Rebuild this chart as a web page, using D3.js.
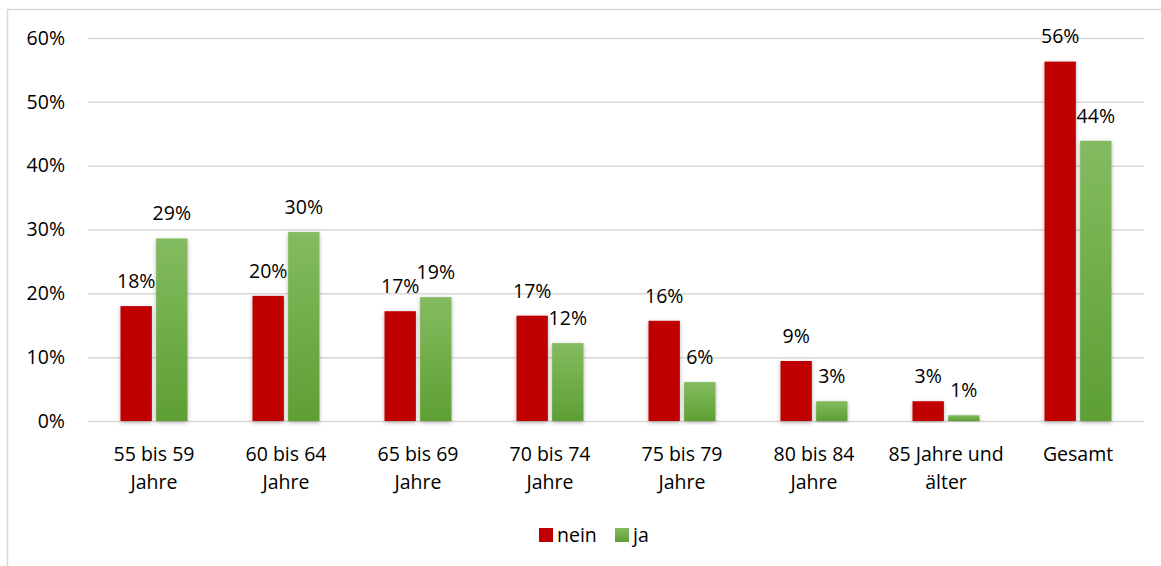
<!DOCTYPE html>
<html>
<head>
<meta charset="utf-8">
<script src="https://cdn.jsdelivr.net/npm/d3@7"></script>
<style>
  body { margin: 0; background: #fff; }
  text { font-family: "Open Sans", "Noto Sans", sans-serif; fill: #000; }
</style>
</head>
<body>
<div id="chart"></div>
<script>
var categories = [['55 bis 59', 'Jahre'], ['60 bis 64', 'Jahre'], ['65 bis 69', 'Jahre'], ['70 bis 74', 'Jahre'],
  ['75 bis 79', 'Jahre'], ['80 bis 84', 'Jahre'], ['85 Jahre und', 'älter'], ['Gesamt']]
var nein = [18.0, 19.6, 17.2, 16.5, 15.7, 9.4, 3.1, 56.3]
var ja = [28.6, 29.6, 19.4, 12.2, 6.1, 3.1, 0.9, 43.9]
var yTicks = [0, 10, 20, 30, 40, 50, 60]
var seriesNames = ['nein', 'ja']

var width = 1161, height = 566
var fs = '19.5px'
var svg = d3.select('#chart').append('svg')
  .attr('width', width)
  .attr('height', height)

var defs = svg.append('defs')
var grad = defs.append('linearGradient')
  .attr('id', 'gGreen').attr('x1', 0).attr('y1', 0).attr('x2', 0).attr('y2', 1)
grad.append('stop').attr('offset', '0%').attr('stop-color', '#83bc60')
grad.append('stop').attr('offset', '100%').attr('stop-color', '#5e9f33')
var shadow = defs.append('filter').attr('id', 'shadow')
  .attr('x', '-30%').attr('y', '-10%').attr('width', '160%').attr('height', '120%')
shadow.append('feDropShadow').attr('dx', 0).attr('dy', 1.5).attr('stdDeviation', 2)
  .attr('flood-color', '#000').attr('flood-opacity', 0.3)

// outer frame
svg.append('rect')
  .attr('x', 7.5).attr('y', 9.5)
  .attr('width', 1170).attr('height', 600)
  .attr('fill', 'none').attr('stroke', '#d9d9d9').attr('stroke-width', 1.5)

var plot = {left: 88, right: 1144, top: 38, bottom: 421}

var y = d3.scaleLinear().domain([0, 60]).range([plot.bottom, plot.top])
var x0 = d3.scaleBand().domain(d3.range(categories.length)).range([plot.left, plot.right])
var x1 = d3.scaleBand().domain(seriesNames).range([0, 67]).paddingInner(0.12)

// y axis with gridlines
var axisY = d3.axisLeft(y).tickValues(yTicks).tickFormat(function(d) { return d + '%' }).tickSize(0)
var axisYG = svg.append('g')
  .attr('transform', 'translate(' + plot.left + ',0)')
  .call(axisY)
axisYG.select('.domain').remove()
axisYG.selectAll('.tick text')
  .attr('x', -23)
  .style('font-size', fs)
axisYG.selectAll('.tick line')
  .attr('x2', plot.right - plot.left)
  .attr('stroke', '#d9d9d9')
  .attr('stroke-width', 1.5)

// bars
var groups = svg.selectAll('.grp')
  .data(categories)
  .enter().append('g')
  .attr('transform', function(d, i) { return 'translate(' + (x0(i) + x0.bandwidth() / 2 - 33.5) + ',0)' })

var colors = {nein: '#c00000', ja: 'url(#gGreen)'}
var vals = {nein: nein, ja: ja}

seriesNames.forEach(function(s) {
  groups.append('rect')
    .attr('x', x1(s))
    .attr('y', function(d, i) { return y(vals[s][i]) })
    .attr('width', x1.bandwidth())
    .attr('height', function(d, i) { return y(0) - y(vals[s][i]) })
    .attr('fill', colors[s])
    .attr('filter', 'url(#shadow)')
  groups.append('text')
    .attr('x', x1(s) + x1.bandwidth() / 2)
    .attr('y', function(d, i) { return y(vals[s][i]) - 25 })
    .attr('dy', '0.35em')
    .attr('text-anchor', 'middle')
    .style('font-size', fs)
    .text(function(d, i) { return Math.round(vals[s][i]) + '%' })
})

// x labels
var xl = svg.selectAll('.xl')
  .data(categories)
  .enter().append('text')
  .attr('text-anchor', 'middle')
  .style('font-size', fs)
  .attr('transform', function(d, i) { return 'translate(' + (x0(i) + x0.bandwidth() / 2) + ',454)' })
xl.selectAll('tspan')
  .data(function(d) { return d })
  .enter().append('tspan')
  .attr('x', 0)
  .attr('y', function(d, i) { return i * 28 })
  .attr('dy', '0.35em')
  .text(function(d) { return d })

// legend
var legend = [{name: 'nein', x: 539}, {name: 'ja', x: 615}]
var lg = svg.selectAll('.lg').data(legend).enter().append('g')
  .attr('transform', function(d) { return 'translate(' + d.x + ',528)' })
lg.append('rect').attr('width', 14).attr('height', 14)
  .attr('fill', function(d) { return colors[d.name] })
lg.append('text').attr('x', 18).attr('y', 7).attr('dy', '0.35em')
  .style('font-size', fs)
  .text(function(d) { return d.name })
</script>
</body>
</html>
